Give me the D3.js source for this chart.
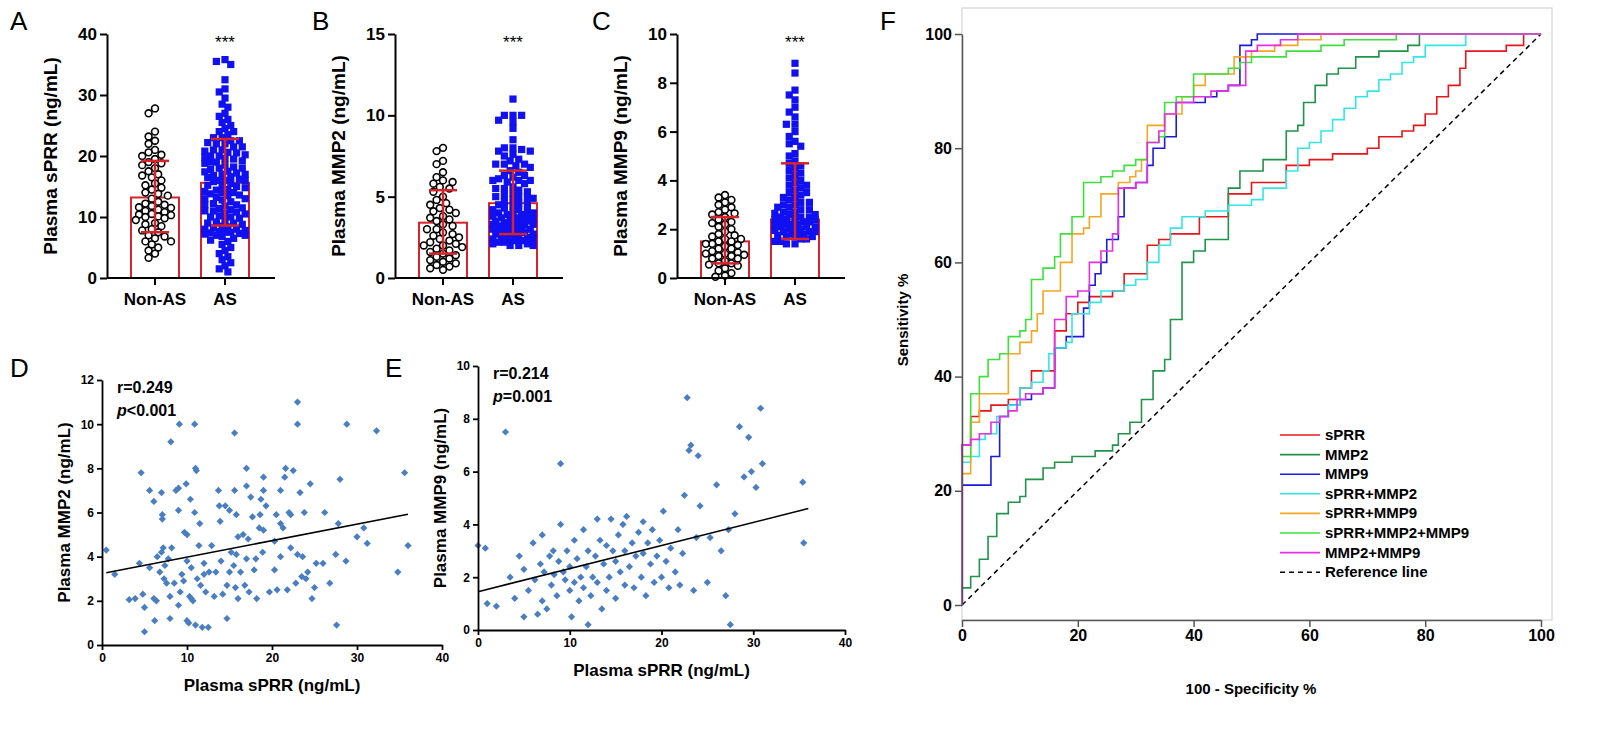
<!DOCTYPE html><html><head><meta charset="utf-8">
<script src="https://cdn.jsdelivr.net/npm/d3@7"></script>
<style>body{margin:0;background:#fff}text{font-family:"Liberation Sans",Arial,sans-serif}</style></head><body>
<svg id="s" width="1600" height="731"></svg>
<script>
const groups=["Non-AS","AS"];
const sprrNon=[27.8,27,24,23.2,22.5,22,21,20.6,20.2,20,19.5,19,18.8,18.5,18,17.5,17,16.8,16.5,16,15.5,15.2,14.8,14.5,14,13.8,13.5,13,12.5,12.2,12,11.8,11.5,11.2,11,10.8,10.5,10.3,10.1,10,9.8,9.5,9,8.8,8.5,8,7.8,7.5,7,6.8,6.5,6,6,5.5,5,4.5,4,3.3,11.6,10.4];
const sprrAS=[35.8,35.5,35,32.5,31,30.5,29.5,28.5,28,27,26.5,26,25.5,25,24.5,24,24,23.5,23,23,22.5,22.5,22,22,21.5,21.5,21,21,20.8,20.5,20.2,20,20,19.8,19.5,19.2,19,19,18.8,18.5,18.2,18,18,17.8,17.5,17.2,17,17,16.8,16.5,16.2,16,16,16,15.8,15.5,15.2,15,15,14.8,14.5,14.2,14,14,13.8,13.5,13.2,13,13,12.8,12.5,12.2,12,12,11.8,11.5,11.2,11,11,10.8,10.5,10.2,10,10,9.8,9.5,9.2,9,9,8.8,8.5,8.2,8,8,7.8,7.5,7.5,7.2,7,7,6.8,6.5,6.2,6,5.5,5,4.5,4,3.5,3,2.5,2,1.5,1,22.2,19.6,16.6,13.6,10.6,7.6,7.4,7.3,20.6,17.4,14.4,11.4,8.4];
const mmp2Non=[8,7.8,7.2,7,6.5,6.2,6,5.8,5.6,5.5,5.3,5,4.8,4.6,4.5,4.3,4.1,4,3.8,3.6,3.5,3.3,3.2,3,3,2.8,2.7,2.5,2.4,2.3,2.2,2,2,1.9,1.8,1.7,1.6,1.5,1.4,1.3,1.2,1.1,1,0.9,0.8,0.7,0.6,0.5,3.7,2.6,2.1,4.2,5.9];
const mmp2AS=[11,10,10,10,9.7,9.6,9.2,8.5,8,8,7.9,7.8,7.8,7.6,7.5,7.3,7.2,7,7,7,6.9,6.8,6.6,6.5,6.3,6.3,6.2,6.1,6,6,6,5.9,5.8,5.6,5.5,5.5,5.4,5.3,5.2,5.1,5,5,4.9,4.9,4.8,4.7,4.6,4.5,4.5,4.4,4.3,4.2,4.2,4.1,4,4,4,3.9,3.9,3.8,3.8,3.7,3.7,3.6,3.6,3.5,3.5,3.4,3.4,3.3,3.3,3.3,3.2,3.2,3.1,3.1,3,3,3,2.9,2.9,2.8,2.8,2.7,2.7,2.6,2.6,2.5,2.5,2.4,2.4,2.3,2.3,2.2,2.2,2.1,2.1,2,2,2,3.55,3.25,2.95,2.65,2.35];
const mmp9Non=[3.4,3.3,3.2,3.1,3,2.9,2.8,2.7,2.6,2.5,2.4,2.3,2.2,2.1,2,1.9,1.8,1.7,1.6,1.5,1.5,1.4,1.4,1.3,1.2,1.2,1.1,1,1,0.9,0.9,0.8,0.8,0.7,0.6,0.6,0.5,0.4,0.3,0.2,0.1,0.05,1.75,1.05,2.25,1.35,0.95,0.55,2.65,1.6];
const mmp9AS=[8.8,8.4,7.7,7.5,7.3,7,6.8,6.6,6.3,6.3,6,5.8,5.6,5.5,5.4,5.1,5,4.8,4.7,4.6,4.5,4.4,4.3,4.2,4.1,4,3.9,3.8,3.8,3.7,3.6,3.5,3.5,3.4,3.3,3.3,3.2,3.1,3.1,3,3,2.9,2.9,2.8,2.8,2.7,2.7,2.6,2.6,2.5,2.5,2.5,2.4,2.4,2.4,2.3,2.3,2.3,2.2,2.2,2.2,2.1,2.1,2.1,2,2,2,1.9,1.9,1.9,1.8,1.8,1.8,1.7,1.7,1.7,1.6,1.6,1.5,1.5,1.4,1.4,2.65,2.45,2.15,1.95,1.75];
const barStats={A:[[13.2,7.5,19.2],[15.6,8.6,22.8]],B:[[3.4,1.5,5.4],[4.6,2.7,6.6]],C:[[1.5,0.6,2.5],[2.4,1.6,4.7]]};
const sprrTicks=[0,10,20,30,40],mmp2Ticks=[0,5,10,15],mmp9Ticks=[0,2,4,6,8,10];
const scatD=[[0.5,4.3],[1.5,3.2],[3.2,2.05],[3.9,2.1],[4.4,3.7],[4.6,7.8],[4.8,2.3],[5,1.7],[5,0.6],[5.6,3.5],[5.6,7],[6.1,6.5],[6.1,2.1],[6.2,1.1],[6.4,2],[6.5,4],[6.8,3.3],[7,6.9],[7,4.2],[7.1,5.9],[7.1,5.7],[7.2,4.4],[7.3,3],[7.4,3.6],[7.6,2.8],[7.8,3.9],[8,2.2],[8,1.2],[8.1,9.2],[8.2,4.4],[8.5,2.8],[8.7,7],[9,6.1],[9,7.1],[9,1.8],[9.1,10],[9.2,2.4],[9.4,3.2],[9.6,2.9],[9.7,5.1],[9.9,7.3],[10,3.8],[10,1.1],[10,5],[10.2,1],[10.3,2.2],[10.5,2.1],[10.4,6.6],[10.5,3.5],[10.7,2],[10.9,10],[10.9,6],[11,8],[11,0.9],[11.1,7.9],[11.2,3],[11.4,4.5],[11.5,5.5],[11.6,2.7],[11.8,0.8],[12,3.2],[12,3.7],[12.2,2.4],[12.5,0.8],[12.6,3.3],[12.9,4.5],[13.2,2.2],[13.4,3.3],[13.7,7],[13.8,6.3],[13.9,5.6],[14,3.8],[14.2,2.3],[14.5,6.3],[14.7,2.7],[14.7,1.2],[15,6.1],[15,3.3],[15.2,4.2],[15.5,3.6],[15.6,9.6],[15.6,7],[15.7,2.6],[15.8,4.1],[15.8,5.9],[16,4.9],[16,2.1],[16.3,3.3],[16.6,5],[16.8,2.7],[17,8],[17,7.2],[17,3.9],[17.2,4.8],[17.3,2.4],[17.5,6.7],[17.7,5.8],[17.9,3.4],[18.1,3.9],[18.2,2.1],[18.5,5.3],[18.6,5.9],[18.7,6.6],[18.9,4.2],[19,7.6],[19,7],[19,5.2],[19.3,6.3],[19.7,2.4],[20.3,4.7],[20.3,3.4],[20.5,5.9],[20.6,2.5],[21,5.5],[21,7],[21,4],[21.3,5.3],[21.5,7.6],[21.6,8],[21.8,2.5],[22,6],[22.2,4.4],[22.2,5.9],[22.5,7.9],[22.8,2.8],[23,4.1],[23.3,6.9],[23,11],[23,10],[23.5,3.1],[23.6,4],[23.8,6],[24,3],[24.2,3.3],[24.5,7.3],[24.7,2.1],[25,2.6],[25.2,3.7],[26,3.7],[26.2,6],[26.8,2.8],[27.5,4.1],[27.6,0.9],[27.8,5.5],[28,7.5],[28.7,3.8],[28.8,10],[30,4.9],[30.8,5.3],[31.2,4.6],[32.3,9.7],[34.8,3.3],[35.6,7.8],[36,4.5]];
const scatE=[[0,3.2],[0.8,3.1],[1,1],[2,0.9],[3,7.5],[3.5,2],[4,1.2],[4.5,2.8],[5,0.5],[5,2.3],[5.5,1.5],[6,3.3],[6.2,1.9],[6.5,0.6],[6.8,2.5],[7,3.6],[7,1.1],[7.2,2.2],[7.5,0.8],[7.8,2.8],[8,1.7],[8.2,3],[8.3,2.1],[8.6,1.3],[8.8,2.6],[9,6.3],[9,4],[9.3,2.2],[9.5,1.9],[9.7,3],[10,1.5],[10,2.4],[10.2,0.5],[10.5,3.4],[10.5,1.8],[10.8,2.7],[11,1.1],[11.2,2],[11.5,3.8],[11.5,1.6],[11.8,2.4],[12,0.2],[12,3],[12.3,1.3],[12.5,2],[12.8,2.8],[13,4.2],[13,1.8],[13.3,3.4],[13.5,0.8],[13.7,2.5],[14,3.2],[14,1.5],[14.3,2],[14.5,4.2],[14.7,3],[15,1.2],[15,2.6],[15.3,3.6],[15.5,2.2],[15.8,4],[16,1.7],[16,3],[16.2,4.3],[16.5,2.4],[16.8,3.3],[17,1.6],[17.2,2.8],[17.5,3.7],[17.8,2],[18,4.1],[18,2.9],[18.3,1.3],[18.5,3.3],[18.8,2.5],[19,3.8],[19.2,1.8],[19.5,2.8],[19.8,3.4],[20,2],[20.2,4.5],[20.5,2.6],[20.8,1.6],[21,3.1],[21.5,2.2],[21.8,3.8],[22,1.7],[22.3,2.9],[22.5,5.1],[22.8,8.8],[23,6.8],[23.2,7],[23.5,1.5],[23.8,3.5],[24,6.6],[24.2,4.7],[25,1.8],[25.3,3.5],[26,5.5],[26.5,3],[27,1.3],[27.3,3.8],[27.5,0.2],[28,4.4],[28.5,7.7],[29,5.8],[29.5,7.3],[29.8,6],[30.3,5.4],[30.8,8.4],[31,6.3],[35.4,5.6],[35.5,3.3]];
const fitD=[[0.5,3.27],[36,5.92]],fitE=[[0,1.45],[36,4.6]];
const rocNames=["sPRR","MMP2","MMP9","sPRR+MMP2","sPRR+MMP9","sPRR+MMP2+MMP9","MMP2+MMP9"];
const rocColors=["#e8161b","#21934a","#1a1ae0","#33e6e6","#f5a623","#3de03d","#e62ee6"];
const rocData=[
[[0,0],[0,28],[1.5,28],[1.5,33],[3,33],[3,34],[5,34],[5,35],[8,36],[10,38],[12,38],[12,41],[16,42],[16,48],[18,51],[20,53],[22,54],[26,55],[28,58],[32,58],[32,63],[34,64],[36,65],[41,65],[41,68],[46,68],[46,72],[50,74],[56,75],[56,77],[60,78],[64,79],[70,80],[72,82],[76,83],[78,84],[80,86],[82,89],[84,91],[86,94],[87,97],[90,97],[94,98],[97,99],[97,100],[100,100]],
[[0,0],[0,3],[1.5,3],[1.5,5],[3,5],[3,8],[4.5,8],[4.5,12],[6,12],[6,16],[8,16],[8,18],[10,18],[10,19],[11,19],[11,22],[14,22],[14,24],[16,24],[16,25],[19,25],[19,26],[23,26],[23,27],[26,27],[26,28],[27,28],[27,30],[29,30],[29,32],[31,32],[31,36],[33,36],[33,41],[35,41],[35,43],[36,43],[36,50],[38,50],[38,60],[40,60],[40,62],[42,64],[46,64],[46,73],[48,76],[52,78],[56,79],[56,83],[58,84],[59,88],[61,91],[63,93],[65,94],[68,96],[72,97],[77,98],[79,100],[100,100]],
[[0,0],[0,21],[5,21],[5,26],[6.5,26],[6.5,33],[8,35],[10,36],[12,36],[12,37],[14,38],[16,40],[16,45],[18,47],[21,47],[21,52],[22,52],[22,56],[23,58],[24,60],[25,62],[25,64],[27,64],[27,68],[28,68],[28,73],[30,74],[32,77],[33,80],[35,80],[35,82],[37,84],[37,88],[40,88],[42,89],[44,90],[46,91],[48,92],[48,98],[50,99],[51,100],[100,100]],
[[0,0],[0,25],[1.5,26],[3,26],[3,29],[4,30],[6,33],[8,35],[10,38],[12,39],[14,41],[15,44],[16,45],[18,46],[19,51],[22,53],[24,55],[26,55],[28,56],[30,57],[32,60],[34,63],[36,66],[38,68],[42,69],[46,70],[50,71],[52,73],[56,76],[58,80],[60,81],[62,83],[64,85],[66,87],[68,89],[70,90],[72,92],[74,93],[76,95],[78,96],[80,98],[86,98],[87,100],[100,100]],
[[0,0],[0,23],[1.5,23],[1.5,32],[3,32],[3,37],[8,37],[8,44],[10,46],[12,48],[13,51],[14,55],[17,55],[17,60],[19,60],[19,65],[21,66],[22,68],[24,72],[27,72],[27,74],[29,75],[30,76],[31,78],[32,84],[35,84],[35,86],[37,86],[38,89],[40,91],[42,93],[47,93],[47,96],[50,97],[52,97],[54,98],[58,99],[62,100],[100,100]],
[[0,0],[0,26],[1.5,26],[1.5,37],[3,37],[3,40],[4.5,40],[4.5,43],[6.5,44],[8,47],[10,48],[11,50],[12,50],[12,57],[14,59],[16,61],[17,65],[19,68],[21,74],[24,75],[26,76],[28,77],[30,78],[32,81],[34,82],[35,88],[37,89],[40,93],[46,94],[48,95],[50,96],[54,96],[56,97],[62,98],[66,99],[75,100],[100,100]],
[[0,0],[0,28],[1.5,28],[1.5,29],[3,29],[3,30],[5,30],[5,32],[6.5,32],[6.5,33],[8,33],[8,34],[9.5,36],[11,37],[14,38],[16,38],[16,50],[18,54],[20,55],[22,55],[22,60],[24,62],[26,65],[27,68],[27,73],[30,74],[32,81],[34,83],[35,86],[37,88],[40,89],[43,90],[46,91],[49,92],[49,97],[51,98],[55,99],[58,100],[100,100]]];
const rocTicks=[0,20,40,60,80,100];

const svg=d3.select("#s");
const F='"Liberation Sans",Arial,sans-serif';
function letter(t,x,y){svg.append("text").attr("x",x).attr("y",y).attr("font-size",26).text(t);}
function beeswarm(vals,y,cx,r,maxOff){const pts=vals.map(v=>({v,py:y(v)})).sort((a,b)=>a.py-b.py);const placed=[];
 const offs=[0];for(let o=r*0.8;o<=maxOff;o+=r*0.8){offs.push(-o,o);}
 pts.forEach(p=>{let best=null,bd=-1;
  for(const off of offs){const px=cx+off;let md=1e9;placed.forEach(q=>{const d=Math.hypot(q.px-px,q.py-p.py);if(d<md)md=d;});
   if(md>=1.7*r){best=px;break;} if(md>bd){bd=md;best=px;}}
  p.px=best;placed.push(p);});return placed;}
function barPanel(ax,ticks,max,non,as,stats,label){
 const y=d3.scaleLinear().domain([0,max]).range([278,34]);
 const x=d3.scaleOrdinal().domain(groups).range([ax+48,ax+118]);
 const g=svg.append("g");
 groups.forEach((gr,i)=>{const s=stats[i];g.append("rect").attr("x",x(gr)-24).attr("y",y(s[0])).attr("width",48).attr("height",278-y(s[0])).attr("fill","none").attr("stroke","#d8232a").attr("stroke-width",2);});
 beeswarm(non,y,x("Non-AS"),4,21).forEach(p=>g.append("circle").attr("cx",p.px).attr("cy",p.py).attr("r",3.4).attr("fill","#fff").attr("stroke","#000").attr("stroke-width",1.6));
 beeswarm(as,y,x("AS"),3.6,21).forEach(p=>g.append("rect").attr("x",p.px-3.6).attr("y",p.py-3.6).attr("width",7.2).attr("height",7.2).attr("fill","#1010f0"));
 groups.forEach((gr,i)=>{const s=stats[i],c=x(gr);
  g.append("line").attr("x1",c).attr("x2",c).attr("y1",y(s[1])).attr("y2",y(s[2])).attr("stroke","#d8232a").attr("stroke-width",2.5);
  [1,2].forEach(j=>g.append("line").attr("x1",c-14).attr("x2",c+14).attr("y1",y(s[j])).attr("y2",y(s[j])).attr("stroke","#d8232a").attr("stroke-width",2.5));});
 const ya=g.append("g").attr("transform",`translate(${ax},0)`).call(d3.axisLeft(y).tickValues(ticks).tickSize(7).tickSizeOuter(0));
 ya.selectAll("text").attr("font-size",17).attr("font-weight","bold").attr("font-family",F).attr("fill","#000");
 ya.selectAll("line,path").attr("stroke","#000").attr("stroke-width",2);
 const xa=g.append("g").attr("transform","translate(0,278)");
 xa.append("line").attr("x1",ax).attr("x2",ax+168).attr("stroke","#000").attr("stroke-width",2);
 groups.forEach(gr=>{xa.append("line").attr("x1",x(gr)).attr("x2",x(gr)).attr("y1",0).attr("y2",7).attr("stroke","#000").attr("stroke-width",2);
  xa.append("text").attr("x",x(gr)).attr("y",27).attr("text-anchor","middle").attr("font-size",17).attr("font-weight","bold").text(gr);});
 g.append("text").attr("transform",`translate(${ax-50},156) rotate(-90)`).attr("text-anchor","middle").attr("font-size",19).attr("font-weight","bold").text(label);
 g.append("text").attr("x",x("AS")).attr("y",48).attr("text-anchor","middle").attr("font-size",17).text("***");
}
letter("A",10,30);letter("B",312,30);letter("C",592,30);letter("D",10,377);letter("E",385,377);letter("F",880,30);
barPanel(107,sprrTicks,40,sprrNon,sprrAS,barStats.A,"Plasma sPRR (ng/mL)");
barPanel(395,mmp2Ticks,15,mmp2Non,mmp2AS,barStats.B,"Plasma MMP2 (ng/mL)");
barPanel(677,mmp9Ticks,10,mmp9Non,mmp9AS,barStats.C,"Plasma MMP9 (ng/mL)");

function scatPanel(x0,x1,y0,y1,ymax,yt,data,fit,label,r,pOp){
 const x=d3.scaleLinear().domain([0,40]).range([x0,x1]),y=d3.scaleLinear().domain([0,ymax]).range([y0,y1]);
 const g=svg.append("g");
 data.forEach(d=>g.append("path").attr("d",d3.symbol(d3.symbolSquare,26)()).attr("transform",`translate(${x(d[0])},${y(d[1])}) rotate(45)`).attr("fill","#4a7ec2"));
 g.append("path").attr("d",d3.line().x(d=>x(d[0])).y(d=>y(d[1]))(fit)).attr("stroke","#000").attr("stroke-width",1.6);
 const xa=g.append("g").attr("transform",`translate(0,${y0})`).call(d3.axisBottom(x).tickValues([0,10,20,30,40]).tickSize(5).tickSizeOuter(0));
 const ya=g.append("g").attr("transform",`translate(${x0},0)`).call(d3.axisLeft(y).tickValues(yt).tickSize(5).tickSizeOuter(0));
 [xa,ya].forEach(a=>{a.selectAll("text").attr("font-size",12).attr("font-weight","bold").attr("font-family",F).attr("fill","#000");a.selectAll("line,path").attr("stroke","#000").attr("stroke-width",1.8);});
 g.append("text").attr("x",(x0+x1)/2).attr("y",y0+46).attr("text-anchor","middle").attr("font-size",17).attr("font-weight","bold").text("Plasma sPRR (ng/mL)");
 g.append("text").attr("transform",`translate(${x0-32},${(y0+y1)/2}) rotate(-90)`).attr("text-anchor","middle").attr("font-size",17).attr("font-weight","bold").text(label);
 g.append("text").attr("x",x0+15).attr("y",y1+13).attr("font-size",16).attr("font-weight","bold").text(r);
 const t=g.append("text").attr("x",x0+15).attr("y",y1+36).attr("font-size",16).attr("font-weight","bold");
 t.append("tspan").attr("font-style","italic").text("p");t.append("tspan").text(pOp);
}
scatPanel(102,442,645,380,12,[0,2,4,6,8,10,12],scatD,fitD,"Plasma MMP2 (ng/mL)","r=0.249","<0.001");
scatPanel(478,845,630,366,10,[0,2,4,6,8,10],scatE,fitE,"Plasma MMP9 (ng/mL)","r=0.214","=0.001");

const rx=d3.scaleLinear().domain([0,100]).range([962,1541]),ry=d3.scaleLinear().domain([0,100]).range([605,34]);
const gF=svg.append("g");
gF.append("rect").attr("x",962).attr("y",8).attr("width",590).attr("height",612).attr("fill","none").attr("stroke","#ccc").attr("stroke-width",1);
gF.append("path").attr("d",d3.line().x(d=>rx(d[0])).y(d=>ry(d[1]))([[0,0],[100,100]])).attr("stroke","#000").attr("stroke-width",1.5).attr("stroke-dasharray","5,4");
rocData.forEach((d,i)=>gF.append("path").attr("d",d3.line().curve(d3.curveStepAfter).x(p=>rx(p[0])).y(p=>ry(p[1]))(d)).attr("fill","none").attr("stroke",rocColors[i]).attr("stroke-width",1.6));
const fx=gF.append("g").attr("transform","translate(0,620)").call(d3.axisBottom(rx).tickValues(rocTicks).tickSize(7).tickSizeOuter(0));
const fy=gF.append("g").attr("transform","translate(962,0)").call(d3.axisLeft(ry).tickValues(rocTicks).tickSize(7).tickSizeOuter(0));
[fx,fy].forEach(a=>{a.selectAll("text").attr("font-size",16).attr("font-weight","bold").attr("font-family",F).attr("fill","#000");a.selectAll("line,path").attr("stroke","#555").attr("stroke-width",1.5);});
gF.append("text").attr("x",1251).attr("y",694).attr("text-anchor","middle").attr("font-size",15).attr("font-weight","bold").text("100 - Specificity %");
gF.append("text").attr("transform","translate(908,320) rotate(-90)").attr("text-anchor","middle").attr("font-size",15).attr("font-weight","bold").text("Sensitivity %");
const legNames=rocNames.concat(["Reference line"]),legColors=rocColors.concat(["#000"]);
legNames.forEach((n,i)=>{const yy=435+i*19.6;
 gF.append("line").attr("x1",1280).attr("x2",1320).attr("y1",yy).attr("y2",yy).attr("stroke",legColors[i]).attr("stroke-width",1.6).attr("stroke-dasharray",i==7?"5,4":null);
 gF.append("text").attr("x",1325).attr("y",yy+5).attr("font-size",15).attr("font-weight","bold").text(n);});
</script></body></html>
